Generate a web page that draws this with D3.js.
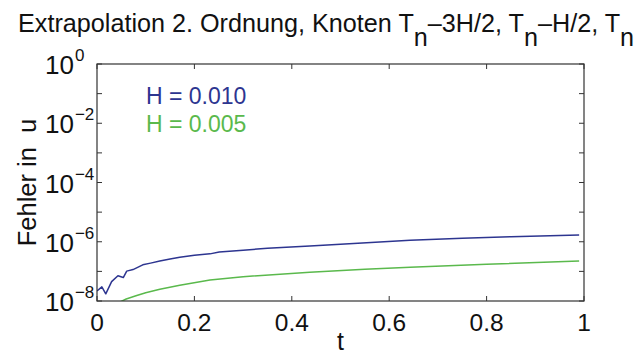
<!DOCTYPE html>
<html>
<head>
<meta charset="utf-8">
<script src="https://cdn.jsdelivr.net/npm/d3@7/dist/d3.min.js"></script>
<style>
  html, body { margin: 0; padding: 0; background: #fff; }
  svg { display: block; font-family: "Liberation Sans", Arial, Helvetica, sans-serif; }
</style>
</head>
<body>
<svg id="chart" width="644" height="358"></svg>
<script>
// Error of 2nd order extrapolation over time, for two macro step sizes H
const tH010 = [0, 0.01, 0.018, 0.03, 0.043, 0.054, 0.061, 0.074, 0.094, 0.11, 0.129, 0.15, 0.17, 0.2, 0.232, 0.251, 0.3, 0.35, 0.437, 0.5, 0.643, 0.75, 0.85, 0.99];
const errH010 = [2.2e-8, 3.0e-8, 1.75e-8, 4.5e-8, 7.1e-8, 6.2e-8, 1.02e-7, 1.15e-7, 1.66e-7, 1.9e-7, 2.24e-7, 2.6e-7, 3.0e-7, 3.5e-7, 3.9e-7, 4.5e-7, 5.2e-7, 6.0e-7, 7.2e-7, 8.3e-7, 1.12e-6, 1.32e-6, 1.48e-6, 1.7e-6];

const tH005 = [0.045, 0.06, 0.08, 0.1, 0.129, 0.17, 0.232, 0.3, 0.437, 0.55, 0.643, 0.8, 0.99];
const errH005 = [8.9e-9, 1.17e-8, 1.5e-8, 1.9e-8, 2.5e-8, 3.4e-8, 5.1e-8, 6.6e-8, 9.3e-8, 1.17e-7, 1.38e-7, 1.74e-7, 2.24e-7];

const seriesLabels = ["H = 0.010", "H = 0.005"];
const seriesColors = ["#2d3590", "#5ab94c"];

const xTicks = [0, 0.2, 0.4, 0.6, 0.8, 1];
const xTickLabels = ["0", "0.2", "0.4", "0.6", "0.8", "1"];
const yTickExponents = [0, -2, -4, -6, -8];
const yMinorExponents = [-1, -3, -5, -7];

const svg = d3.select("#chart");
const plot = { left: 97, right: 584, top: 64, bottom: 301 };

const x = d3.scaleLinear().domain([0, 1]).range([plot.left, plot.right]);
const y = d3.scaleLog().domain([1e-8, 1]).range([plot.bottom, plot.top]);

svg.append("defs").append("clipPath").attr("id", "plotClip")
  .append("rect")
  .attr("x", plot.left).attr("y", plot.top)
  .attr("width", plot.right - plot.left).attr("height", plot.bottom - plot.top);

// Curves
const line = d3.line().x(d => x(d[0])).y(d => y(d[1]));
const series = [
  d3.zip(tH010, errH010),
  d3.zip(tH005, errH005)
];
svg.append("g").attr("clip-path", "url(#plotClip)")
  .selectAll("path").data(series).join("path")
  .attr("d", line)
  .attr("fill", "none")
  .attr("stroke", (d, i) => seriesColors[i])
  .attr("stroke-width", 1.5)
  .attr("stroke-linejoin", "round");

// Box axes with inward ticks
const axisColor = "#333";
const tickLen = 5;
const axesG = svg.append("g");
axesG.append("rect")
  .attr("x", plot.left).attr("y", plot.top)
  .attr("width", plot.right - plot.left).attr("height", plot.bottom - plot.top)
  .attr("fill", "none").attr("stroke", axisColor).attr("stroke-width", 1.2);

xTicks.forEach(v => {
  axesG.append("line").attr("x1", x(v)).attr("x2", x(v))
    .attr("y1", plot.bottom).attr("y2", plot.bottom - tickLen)
    .attr("stroke", axisColor).attr("stroke-width", 1);
  axesG.append("line").attr("x1", x(v)).attr("x2", x(v))
    .attr("y1", plot.top).attr("y2", plot.top + tickLen)
    .attr("stroke", axisColor).attr("stroke-width", 1);
});
yTickExponents.concat(yMinorExponents).forEach(e => {
  const yy = y(Math.pow(10, e));
  axesG.append("line").attr("x1", plot.left).attr("x2", plot.left + tickLen)
    .attr("y1", yy).attr("y2", yy).attr("stroke", axisColor).attr("stroke-width", 1);
  axesG.append("line").attr("x1", plot.right).attr("x2", plot.right - tickLen)
    .attr("y1", yy).attr("y2", yy).attr("stroke", axisColor).attr("stroke-width", 1);
});

// X tick labels
svg.append("g").selectAll("text").data(xTicks).join("text")
  .attr("x", d => x(d))
  .attr("y", 331)
  .attr("text-anchor", "middle")
  .attr("font-size", 24.5)
  .attr("fill", "#111")
  .text((d, i) => xTickLabels[i]);

// Y tick labels as powers of ten
const yLab = svg.append("g").selectAll("text").data(yTickExponents).join("text")
  .attr("x", 45)
  .attr("y", d => y(Math.pow(10, d)) + 10)
  .attr("font-size", 26)
  .attr("fill", "#111");
yLab.append("tspan").text("10");
yLab.append("tspan").attr("dy", -13).attr("dx", 1).attr("font-size", 17)
  .text(d => d === 0 ? "0" : "\u2212" + Math.abs(d));

// Axis titles
svg.append("text")
  .attr("x", x(0.5)).attr("y", 350)
  .attr("text-anchor", "middle").attr("font-size", 25).attr("fill", "#111")
  .text("t");
svg.append("text")
  .attr("transform", `translate(36,${(plot.top + plot.bottom) / 2}) rotate(-90)`)
  .attr("text-anchor", "middle").attr("font-size", 25.5).attr("fill", "#111")
  .style("white-space", "pre")
  .text("Fehler in  u");

// Title with subscripts
const title = svg.append("text")
  .attr("x", 18).attr("y", 32)
  .attr("font-size", 25.2).attr("fill", "#111");
const parts = [
  ["Extrapolation 2. Ordnung, Knoten T", 0],
  ["n", 1],
  ["\u20133H/2, T", 0],
  ["n", 1],
  ["\u2013H/2, T", 0],
  ["n", 1]
];
let level = 0;
parts.forEach(([s, sub]) => {
  const ts = title.append("tspan").text(s);
  if (sub !== level) { ts.attr("dy", sub ? 14 : -14); level = sub; }
});

// Legend text
svg.append("g").selectAll("text").data(seriesLabels).join("text")
  .attr("x", 146)
  .attr("y", (d, i) => 104 + i * 28)
  .attr("font-size", 23)
  .attr("fill", (d, i) => seriesColors[i])
  .text(d => d);
</script>
</body>
</html>
